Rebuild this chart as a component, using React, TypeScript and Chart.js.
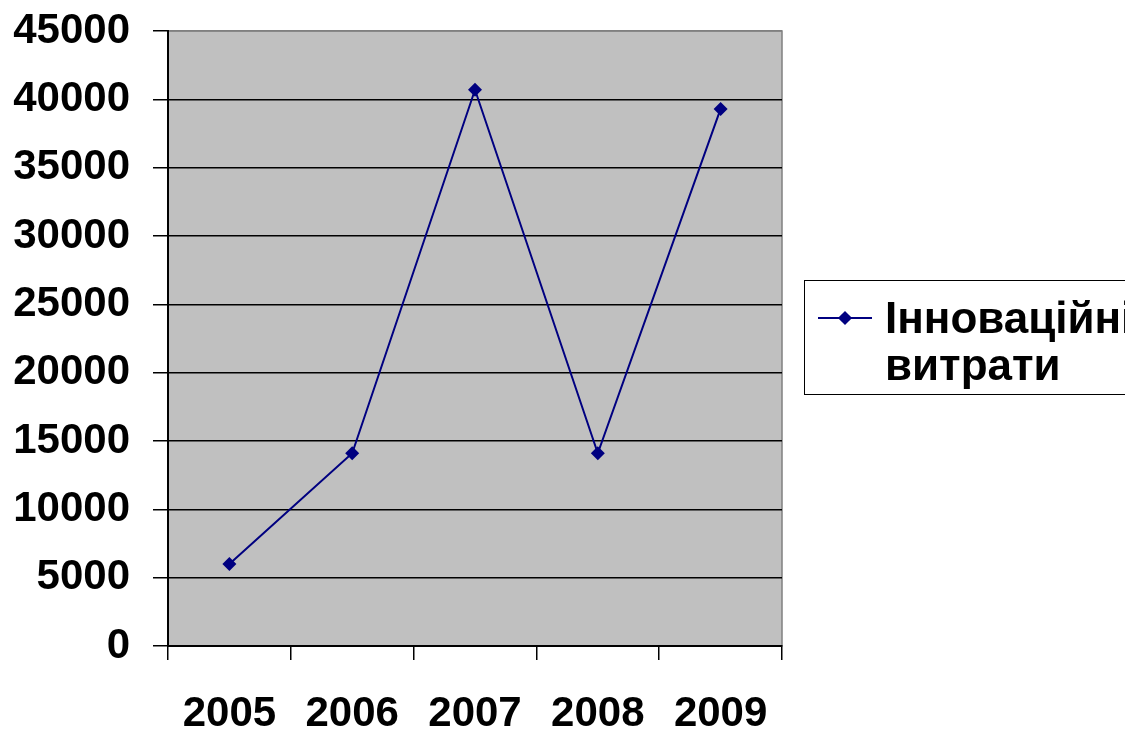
import React, { useEffect, useRef } from "react";
import { Chart, registerables } from "chart.js";

Chart.register(...registerables);

const years = ["2005", "2006", "2007", "2008", "2009"];
const innovationCosts = [6000, 14100, 40700, 14100, 39300];
const seriesLabel = "Інноваційні витрати";
const yMin = 0;
const yMax = 45000;
const yStep = 5000;

const FONT = '"Liberation Sans", Arial, sans-serif';
const NAVY = "#000080";

const plotBg = {
  id: "plotBg",
  beforeDraw(chart: any) {
    const { ctx, chartArea: a } = chart;
    ctx.save();
    ctx.fillStyle = "#C0C0C0";
    ctx.fillRect(a.left, a.top, a.right - a.left, a.bottom - a.top);
    ctx.strokeStyle = "#808080";
    ctx.lineWidth = 1.5;
    ctx.strokeRect(a.left, a.top, a.right - a.left, a.bottom - a.top);
    ctx.restore();
  },
};

export default function App() {
  const ref = useRef<HTMLCanvasElement>(null);
  useEffect(() => {
    document.body.style.margin = "0";
    const chart = new Chart(ref.current as HTMLCanvasElement, {
      type: "line",
      data: {
        labels: years,
        datasets: [
          {
            label: seriesLabel,
            data: innovationCosts,
            borderColor: NAVY,
            backgroundColor: NAVY,
            borderWidth: 2,
            pointStyle: "rectRot",
            pointRadius: 7,
            pointBackgroundColor: NAVY,
            pointBorderColor: NAVY,
            pointBorderWidth: 0,
            tension: 0,
          },
        ],
      },
      options: {
        animation: false,
        responsive: false,
        maintainAspectRatio: false,
        layout: { padding: { left: 0, right: 343, top: 31, bottom: 0 } },
        plugins: { legend: { display: false }, tooltip: { enabled: false } },
        scales: {
          x: {
            type: "category",
            offset: true,
            afterFit: (s: any) => {
              s.height = 83;
              s.paddingLeft = 0;
              s.paddingRight = 0;
            },
            grid: {
              offset: true,
              drawOnChartArea: false,
              drawTicks: true,
              tickLength: 14,
              color: "#000",
              lineWidth: 1.5,
            },
            border: { color: "#000", width: 2 },
            ticks: {
              color: "#000",
              font: { family: FONT, size: 42, weight: "bold" },
              padding: 29,
              maxRotation: 0,
            },
          },
          y: {
            min: yMin,
            max: yMax,
            afterFit: (s: any) => {
              s.width = 168;
              s.paddingTop = 0;
              s.paddingBottom = 0;
            },
            grid: {
              color: (c: any) => (c.tick && c.tick.value === yMax ? "#808080" : "#000"),
              lineWidth: 1.5,
              tickLength: 15,
              tickColor: "#000",
            },
            border: { color: "#000", width: 2 },
            ticks: {
              stepSize: yStep,
              color: "#000",
              font: { family: FONT, size: 42, weight: "bold" },
              padding: 23,
              callback: (v: any) => String(v),
            },
          },
        },
      },
      plugins: [plotBg],
    } as any);
    return () => chart.destroy();
  }, []);

  return (
    <div style={{ position: "relative", width: 1125, height: 729, overflow: "hidden", background: "#fff" }}>
      <canvas ref={ref} width={1125} height={729} style={{ position: "absolute", left: 0, top: 0 }} />
      <div
        style={{
          position: "absolute",
          left: 804,
          top: 280,
          width: 340,
          height: 115,
          border: "1.5px solid #000",
          boxSizing: "border-box",
        }}
      />
      <div style={{ position: "absolute", left: 818, top: 317, width: 54, height: 2, background: NAVY }} />
      <div
        style={{
          position: "absolute",
          left: 840,
          top: 313,
          width: 10,
          height: 10,
          background: NAVY,
          transform: "rotate(45deg)",
        }}
      />
      <div
        style={{
          position: "absolute",
          left: 885,
          top: 294,
          fontFamily: FONT,
          fontWeight: "bold",
          fontSize: 44,
          lineHeight: "47px",
          color: "#000",
          whiteSpace: "nowrap",
        }}
      >
        Інноваційні
        <br />
        витрати
      </div>
    </div>
  );
}
